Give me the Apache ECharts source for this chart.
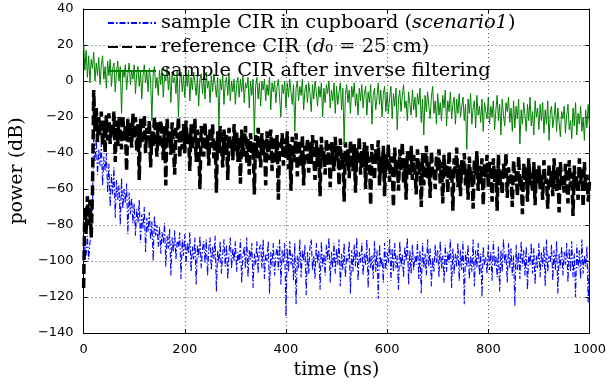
<!DOCTYPE html>
<html>
<head>
<meta charset="utf-8">
<script src="https://cdn.jsdelivr.net/npm/echarts@6/dist/echarts.min.js"></script>
<style>html,body{margin:0;padding:0;background:#fff;}#c{width:609px;height:388px;}</style>
</head>
<body>
<div id="c"></div>
<script>
// time step between samples (ns)
var stepNs = 2.5;
var seriesNames = [
  'sample CIR in cupboard (scenario1)',
  'reference CIR (d0 = 25 cm)',
  'sample CIR after inverse filtering'
];
// sample CIR in cupboard (scenario1), dB
var cirSample = [
  -100, -92, -97, -86, -99, -90, -84, -70, -28, -45, -32, -52, -38, -47, -35, -58, -42, -50, -40, -62,
  -46, -70, -52, -63, -48, -76, -55, -66, -58, -80, -54, -71, -60, -68, -57, -85, -62, -74, -65, -79,
  -68, -86, -71, -79, -66, -90, -74, -82, -70, -95, -76, -84, -73, -88, -78, -100, -75, -86, -80, -92,
  -81, -96, -84, -90, -79, -103, -86, -93, -82, -108, -87, -95, -83, -99, -89, -92, -84, -110, -88, -97,
  -85, -102, -90, -96, -84, -106, -92, -99, -87, -113, -91, -98, -86, -104, -94, -89, -101, -88, -108, -93,
  -87, -105, -92, -99, -86, -117, -94, -101, -89, -107, -96, -88, -103, -91, -110, -95, -87, -104, -93, -100,
  -89, -106, -95, -101, -88, -112, -97, -92, -104, -87, -109, -94, -99, -90, -115, -96, -102, -89, -107, -93,
  -91, -104, -88, -110, -96, -100, -89, -118, -95, -103, -90, -108, -97, -92, -105, -88, -113, -94, -101, -90,
  -131, -93, -106, -89, -102, -96, -111, -90, -124, -97, -104, -88, -109, -94, -100, -91, -119, -95, -107, -92,
  -88, -105, -97, -110, -90, -101, -94, -116, -89, -103, -96, -108, -91, -99, -87, -112, -95, -104, -90, -107,
  -93, -102, -88, -114, -96, -105, -90, -109, -97, -100, -89, -118, -94, -106, -91, -103, -87, -111, -95, -101,
  -90, -108, -96, -102, -88, -115, -93, -104, -97, -110, -89, -106, -94, -121, -91, -103, -98, -112, -90, -105,
  -95, -101, -88, -111, -93, -106, -90, -104, -97, -116, -89, -103, -96, -109, -92, -100, -87, -113, -94, -107,
  -91, -105, -97, -102, -89, -110, -94, -118, -90, -104, -96, -108, -88, -103, -93, -114, -98, -106, -91, -101,
  -94, -109, -89, -104, -97, -112, -91, -106, -95, -101, -88, -115, -93, -107, -96, -103, -90, -111, -94, -105,
  -89, -124, -95, -103, -91, -110, -97, -106, -88, -114, -94, -104, -90, -108, -96, -120, -92, -102, -98, -107,
  -91, -105, -95, -111, -89, -103, -97, -109, -92, -117, -94, -106, -88, -101, -96, -112, -90, -104, -93, -108,
  -97, -125, -91, -105, -95, -110, -89, -103, -94, -108, -92, -116, -96, -102, -90, -107, -93, -113, -97, -104,
  -90, -109, -95, -103, -92, -114, -88, -106, -97, -101, -91, -111, -94, -105, -89, -118, -96, -104, -92, -108,
  -95, -102, -90, -112, -93, -106, -89, -109, -96, -120, -91, -104, -94, -110, -88, -107, -97, -103, -92, -123,
  -99
];
// reference CIR (d0 = 25 cm), dB
var cirReference = [
  -115, -70, -85, -64, -80, -66, -87, -62, -5, -28, -15, -34, -20, -30, -17, -36, -22, -40, -19, -33,
  -18, -35, -24, -31, -17, -45, -22, -36, -20, -29, -38, -19, -33, -25, -50, -21, -34, -23, -37, -18,
  -32, -20, -39, -24, -55, -21, -35, -27, -19, -40, -26, -33, -22, -48, -28, -36, -20, -31, -42, -23,
  -37, -22, -30, -44, -25, -58, -21, -34, -28, -41, -23, -36, -52, -26, -32, -20, -43, -27, -38, -24,
  -40, -22, -35, -29, -50, -24, -38, -31, -21, -45, -27, -36, -60, -25, -33, -42, -23, -39, -30, -47,
  -26, -37, -24, -43, -32, -62, -28, -40, -25, -35, -48, -27, -41, -30, -55, -26, -38, -33, -44, -24,
  -39, -28, -45, -31, -57, -27, -42, -35, -25, -46, -32, -52, -29, -40, -34, -63, -30, -43, -26, -37,
  -48, -29, -41, -33, -58, -28, -44, -36, -27, -50, -31, -39, -45, -30, -66, -34, -42, -29, -47, -32,
  -43, -28, -49, -35, -61, -31, -45, -38, -29, -53, -33, -40, -47, -30, -58, -36, -44, -32, -51, -34,
  -46, -30, -42, -55, -33, -48, -37, -64, -31, -44, -39, -52, -32, -47, -35, -59, -34, -43, -50, -31,
  -45, -36, -58, -32, -49, -40, -67, -34, -47, -38, -54, -33, -44, -50, -35, -62, -37, -46, -31, -52,
  -39, -48, -34, -60, -36, -50, -42, -69, -35, -47, -55, -38, -45, -33, -58, -41, -51, -36, -64, -40,
  -49, -35, -56, -42, -47, -70, -37, -52, -44, -61, -38, -50, -34, -57, -43, -66, -39, -48, -53, -36,
  -55, -41, -49, -63, -38, -52, -45, -70, -40, -58, -47, -36, -54, -44, -65, -39, -51, -48, -60, -42,
  -50, -38, -57, -45, -68, -41, -53, -47, -62, -39, -55, -49, -72, -43, -51, -37, -59, -46, -64, -44,
  -52, -40, -58, -48, -66, -42, -55, -50, -71, -44, -53, -39, -61, -47, -57, -43, -69, -46, -54, -41,
  -59, -45, -52, -67, -43, -56, -49, -72, -41, -58, -50, -63, -46, -54, -40, -65, -48, -57, -52, -70,
  -44, -56, -50, -64, -42, -59, -53, -74, -46, -55, -48, -67, -43, -58, -51, -62, -45, -69, -49, -57,
  -47, -60, -52, -66, -44, -57, -54, -71, -46, -59, -50, -64, -43, -56, -61, -48, -73, -45, -58, -53,
  -62, -46, -55, -68, -44, -59, -51, -75, -47, -60, -53, -66, -43, -57, -49, -70, -45, -61, -52, -67,
  -56
];
// sample CIR after inverse filtering, dB
var cirFiltered = [
  22, 6, 17, 2, 14, -1, 12, 7, 16, 0, 10, 3, 13, -2, 9, 14, 1, 8, -4, 11,
  3, 12, -3, 7, 10, -6, 5, 11, 0, 8, -18, 6, 2, 9, -5, 4, 10, -2, 6, 1,
  9, -7, 4, 8, -3, 6, -10, 3, 9, -1, 5, -6, 7, 0, -22, 4, 8, -4, 2, -8,
  6, -2, 7, -9, 3, 0, 8, -5, 4, -12, 5, -1, 2, -7, 6, -20, 1, 5, -6, 3,
  -9, 4, -3, 6, -11, 2, -5, 5, -1, -8, 3, -14, 1, 4, -7, 2, -10, 5, -4, 0,
  -12, 3, -6, 4, -2, -9, 2, -25, 1, -5, 3, -13, -1, 2, -8, 4, -11, 0, -6, 1,
  -13, -2, 2, -9, 1, -6, 3, -12, -1, -4, 2, -15, 0, -8, 1, -30, -3, 2, -10, -1,
  -14, 0, -5, 1, -11, -2, -8, 2, -16, -1, -6, 0, -12, -3, 1, -9, -20, -2, -7, 0,
  -15, -1, -9, 1, -6, -13, -2, -28, -4, 0, -11, -3, -8, 1, -16, -5, -2, -12, -1, -7,
  -17, -2, -10, 0, -6, -14, -3, -9, -1, -20, -4, -12, -2, -7, 0, -15, -5, -11, -1, -18,
  -3, -13, -6, -1, -16, -4, -35, -8, -2, -12, -5, -18, -3, -9, -1, -14, -7, -19, -4, -11,
  -2, -15, -7, -3, -19, -6, -12, -2, -24, -8, -4, -16, -9, -1, -13, -5, -20, -7, -3, -17,
  -6, -18, -9, -3, -21, -7, -14, -4, -27, -10, -5, -17, -8, -2, -15, -11, -22, -6, -13, -19,
  -5, -16, -9, -20, -7, -13, -4, -23, -10, -30, -8, -17, -6, -14, -21, -9, -3, -18, -11, -24,
  -7, -19, -12, -22, -8, -15, -5, -25, -11, -17, -6, -21, -13, -9, -24, -10, -18, -7, -20, -14,
  -9, -22, -13, -38, -10, -18, -7, -24, -15, -11, -26, -8, -19, -14, -23, -10, -28, -12, -17, -21,
  -9, -24, -14, -20, -11, -27, -16, -8, -22, -13, -30, -10, -19, -25, -12, -17, -9, -23, -15, -28,
  -11, -26, -14, -21, -10, -35, -16, -24, -12, -19, -28, -13, -22, -9, -25, -17, -30, -11, -20, -15,
  -27, -13, -22, -12, -29, -16, -24, -11, -33, -18, -14, -26, -20, -12, -28, -15, -23, -31, -17, -21,
  -14, -29, -19, -13, -27, -22, -32, -15, -25, -12, -30, -18, -24, -14, -28, -20, -33, -16, -26, -13,
  -25
];

function pairs(arr) {
  return arr.map(function (v, i) { return [i * stepNs, v]; });
}
function minus(v) { return String(v).replace('-', '\u2212'); }

var serif = 'DejaVu Serif';
var sans = 'DejaVu Sans';
var chart = echarts.init(document.getElementById('c'), null, {renderer: 'canvas'});

var legendFormat = {};
legendFormat[seriesNames[0]] = '{n|sample CIR in cupboard (}{i|scenario1}{n|)}';
legendFormat[seriesNames[1]] = '{n|reference CIR (}{i|d}{n|\u2080 = 25 cm)}';
legendFormat[seriesNames[2]] = '{n|sample CIR after inverse filtering}';

function axisCommon() {
  return {
    axisLine: {show: true, onZero: false, lineStyle: {color: '#000', width: 1}},
    axisTick: {show: true, inside: true, length: 4, lineStyle: {color: '#000'}}
  };
}

chart.setOption({
  animation: false,
  backgroundColor: '#fff',
  grid: {left: 78, right: 18, top: 9, bottom: 55, containLabel: false},
  legend: {
    show: true,
    orient: 'vertical',
    left: 107,
    top: 13,
    padding: 0,
    itemGap: 4,
    itemWidth: 48,
    itemHeight: 14,
    data: seriesNames,
    itemStyle: {opacity: 0},
    formatter: function (name) { return legendFormat[name]; },
    textStyle: {
      color: '#000',
      fontFamily: serif,
      fontSize: 19,
      lineHeight: 20,
      rich: {
        n: {fontFamily: serif, fontSize: 19.4, color: '#000', lineHeight: 20},
        i: {fontFamily: serif, fontSize: 19.4, fontStyle: 'italic', color: '#000', lineHeight: 20}
      }
    }
  },
  xAxis: [
    Object.assign(axisCommon(), {
      type: 'value', min: 0, max: 1000, interval: 200,
      name: 'time (ns)', nameLocation: 'middle', nameGap: 24,
      nameTextStyle: {fontFamily: serif, fontSize: 19, color: '#000'},
      axisLabel: {fontFamily: sans, fontSize: 13, color: '#000', margin: 10, formatter: minus},
      splitLine: {show: true, lineStyle: {color: '#555', type: [1, 3], width: 1}}
    }),
    Object.assign(axisCommon(), {
      type: 'value', min: 0, max: 1000, interval: 200, position: 'top',
      axisLabel: {show: false}, splitLine: {show: false}
    })
  ],
  yAxis: [
    Object.assign(axisCommon(), {
      type: 'value', min: -140, max: 40, interval: 20,
      name: 'power (dB)', nameLocation: 'middle', nameGap: 50, nameRotate: 90,
      nameTextStyle: {fontFamily: serif, fontSize: 19, color: '#000'},
      axisLabel: {fontFamily: sans, fontSize: 13, color: '#000', margin: 10, formatter: minus},
      splitLine: {show: true, lineStyle: {color: '#555', type: [1, 3], width: 1}}
    }),
    Object.assign(axisCommon(), {
      type: 'value', min: -140, max: 40, interval: 20, position: 'right',
      axisLabel: {show: false}, splitLine: {show: false}
    })
  ],
  series: [
    {
      name: seriesNames[0], type: 'line', data: pairs(cirSample),
      symbol: 'none', showSymbol: false, sampling: null,
      lineStyle: {color: '#0000ff', width: 1.1, type: [6, 2, 1.5, 2]},
      itemStyle: {color: '#0000ff'}
    },
    {
      name: seriesNames[1], type: 'line', data: pairs(cirReference),
      symbol: 'none', showSymbol: false,
      lineStyle: {color: '#000', width: 3.5, type: [10, 4]},
      itemStyle: {color: '#000'}
    },
    {
      name: seriesNames[2], type: 'line', data: pairs(cirFiltered),
      symbol: 'none', showSymbol: false,
      lineStyle: {color: '#008000', width: 1},
      itemStyle: {color: '#008000'}
    }
  ]
});
</script>
</body>
</html>
